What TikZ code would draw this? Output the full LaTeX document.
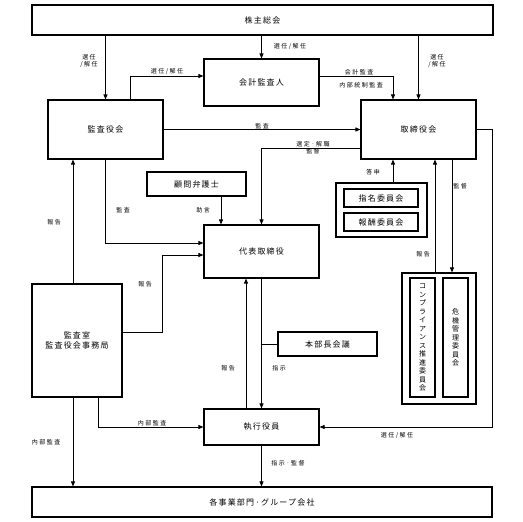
\documentclass[tikz,border=0pt]{standalone}
\usepackage{fontspec}
\setmainfont{Noto Sans CJK JP}
\newfontfamily\boxfont[LetterSpace=15]{Noto Sans CJK JP}
\newfontfamily\labfont[LetterSpace=25]{Noto Sans CJK JP}
\usetikzlibrary{arrows.meta}
\begin{document}
\begin{tikzpicture}[x=1pt,y=-1pt,
  bx/.style={draw,line width=1.1pt,inner sep=0pt,font=\boxfont\fontsize{8}{10}\selectfont,align=center},
  vt/.style={bx,font=\fontsize{7}{8.5}\selectfont},
  ln/.style={line width=0.8pt},
  arr/.style={ln,-{Triangle[length=5pt,width=4pt]}},
  lab/.style={font=\labfont\fontsize{6}{7}\selectfont,inner sep=0pt,align=center}]
\useasboundingbox[fill=white] (0,0) rectangle (523,522);

% boxes
\node[bx,minimum width=461pt,minimum height=30pt] (sh) at (262.5,20) {株主総会};
\node[bx,minimum width=115pt,minimum height=47pt] (kaikei) at (261.5,82.5) {会計監査人};
\node[bx,minimum width=115pt,minimum height=59pt] (kansa) at (105.5,129.5) {監査役会};
\node[bx,minimum width=115pt,minimum height=59pt] (tori) at (418.5,129.5) {取締役会};
\node[bx,minimum width=99pt,minimum height=24pt] (komon) at (196.5,184) {顧問弁護士};
\node[bx,minimum width=115pt,minimum height=53pt] (daihyo) at (261.5,251.5) {代表取締役};
\node[bx,minimum width=91pt,minimum height=54pt] (nom) at (381.5,210) {};
\node[bx,minimum width=74pt,minimum height=18pt] (shimei) at (381,198) {指名委員会};
\node[bx,minimum width=74pt,minimum height=18pt] (hoshu) at (381,222) {報酬委員会};
\node[bx,minimum width=90pt,minimum height=113pt] (shitsu) at (77,340.5) {監査室\\監査役会事務局};
\node[bx,minimum width=99pt,minimum height=24pt] (honbu) at (327.5,344) {本部長会議};
\node[bx,minimum width=74pt,minimum height=131pt] (compo) at (439,338.5) {};
\node[vt,minimum width=25pt,minimum height=119pt] (comp) at (422.5,337.5) {コ\\ン\\プ\\ラ\\イ\\ア\\ン\\ス\\推\\進\\委\\員\\会};
\node[vt,minimum width=25pt,minimum height=119pt] (kiki) at (455.5,337.5) {危\\機\\管\\理\\委\\員\\会};
\node[bx,minimum width=115pt,minimum height=36pt] (shikko) at (261.5,427) {執行役員};
\node[bx,minimum width=460pt,minimum height=30pt] (kaku) at (262,502) {各事業部門·グループ会社};

% connectors
\draw[arr] (sh.south -| kansa.north) -- (kansa.north);
\draw[arr] (sh.south -| kaikei.north) -- (kaikei.north);
\draw[arr] (sh.south -| tori.north) -- (tori.north);
\draw[arr] ([xshift=24.5pt]kansa.north) |- ([yshift=6.5pt]kaikei.west);
\draw[arr] ([yshift=6.5pt]kaikei.east) -| ([xshift=-25.5pt]tori.north);
\draw[arr] (kansa.east) -- (tori.west);
\draw[arr] ([yshift=-18.5pt]tori.west) -| (daihyo.north);
\draw[arr] ([xshift=24.5pt]komon.south) -- ([xshift=24.5pt]komon.south |- daihyo.north);
\draw[arr] (kansa.south) |- ([yshift=8.5pt]daihyo.west);
\draw[arr] ([yshift=8.5pt]shitsu.east) -| ([xshift=-41pt,yshift=-3.5pt]daihyo.west) -- ([yshift=-3.5pt]daihyo.west);
\draw[arr] ([xshift=-4pt]shitsu.north) -- ([xshift=-4pt]shitsu.north |- kansa.south);
\draw[arr] ([xshift=11.5pt]nom.north) -- ([xshift=11.5pt]nom.north |- tori.south);
\draw[arr] ([xshift=-4pt]compo.north) -- ([xshift=-4pt]compo.north |- tori.south);
\draw[arr] ([xshift=33.5pt]tori.south) -- ([xshift=33.5pt]tori.south |- compo.north);
\draw[arr] (tori.east) -| ([xshift=173pt]shikko.east) -- (shikko.east);
\draw[arr] ([xshift=-15.5pt]shikko.north) -- ([xshift=-15.5pt]daihyo.south);
\draw[arr] (daihyo.south) -- (shikko.north);
\draw[ln] (honbu.west) -- (honbu.west -| daihyo.south);
\draw[arr] ([xshift=21pt]shitsu.south) |- (shikko.west);
\draw[arr] ([xshift=-4pt]shitsu.south) -- ([xshift=-4pt]shitsu.south |- kaku.north);
\draw[arr] (shikko.south) -- (shikko.south |- kaku.north);

% labels
\node[lab] (l1) at (290,47) {選任/解任};
\node[lab] (l2) at (89,61) {選任\\/解任};
\node[lab] (l3) at (437,61) {選任\\/解任};
\node[lab] (l4) at (167,72) {選任/解任};
\node[lab] (l5) at (359,72) {会計監査};
\node[lab] (l6) at (361,85) {内部統制監査};
\node[lab] (l7) at (262,126) {監査};
\node[lab] (l8) at (313,148) {選定·解職\\監督};
\node[lab] (l9) at (203,210) {助言};
\node[lab] (l10) at (123,210) {監査};
\node[lab] (l11) at (54,222) {報告};
\node[lab] (l12) at (373,172) {答申};
\node[lab] (l13) at (460,186) {監督};
\node[lab] (l14) at (423,254) {報告};
\node[lab] (l15) at (145,284) {報告};
\node[lab] (l16) at (228,368) {報告};
\node[lab] (l17) at (279,368) {指示};
\node[lab] (l18) at (152,423) {内部監査};
\node[lab] (l19) at (46,442) {内部監査};
\node[lab] (l20) at (397,436) {選任/解任};
\node[lab] (l21) at (288,463) {指示·監督};
\end{tikzpicture}
\end{document}
